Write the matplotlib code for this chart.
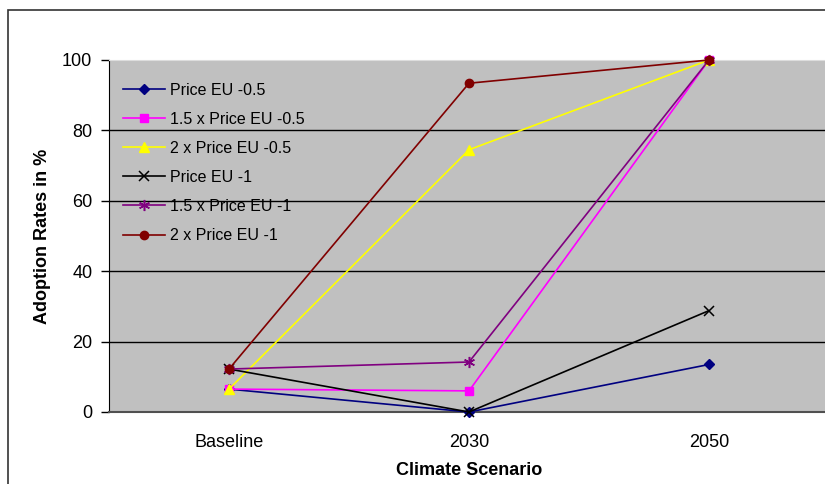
import matplotlib as mpl
import matplotlib.pyplot as plt
from matplotlib.patches import Rectangle

mpl.rcParams.update({"font.family": ["Liberation Sans", "DejaVu Sans"]})

scenarios = ["Baseline", "2030", "2050"]
series_names = [
    "Price EU -0.5",
    "1.5 x Price EU -0.5",
    "2 x Price EU -0.5",
    "Price EU -1",
    "1.5 x Price EU -1",
    "2 x Price EU -1",
]
price_05 = [6.5, 0.0, 13.5]
price_05_x15 = [6.5, 6.0, 100.0]
price_05_x2 = [6.5, 74.5, 100.0]
price_1 = [12.2, 0.0, 28.8]
price_1_x15 = [12.2, 14.2, 100.0]
price_1_x2 = [12.2, 93.4, 100.0]
yticks = [0, 20, 40, 60, 80, 100]

styles = [
    dict(color="#000080", marker="D", ms=5),
    dict(color="#FF00FF", marker="s", ms=6),
    dict(color="#FFFF00", marker="^", ms=7),
    dict(color="#000000", marker="x", ms=7, mew=1.1),
    dict(color="#800080", marker=(6, 2, 0), ms=8, mew=1.1),
    dict(color="#800000", marker="o", ms=6),
]

fig = plt.figure(figsize=(8.25, 4.84), dpi=100)
fig.patches.append(
    Rectangle((8 / 825, -0.1), 1.2, 1 - 10 / 484 + 0.1, transform=fig.transFigure,
              fill=False, edgecolor="#333333", lw=1.2)
)
ax = fig.add_axes([109 / 825, 1 - 412 / 484, 720 / 825, 352 / 484])
ax.set_facecolor("#C0C0C0")

x = list(range(len(scenarios)))
all_series = [price_05, price_05_x15, price_05_x2, price_1, price_1_x15, price_1_x2]
for name, vals, st in zip(series_names, all_series, styles):
    ax.plot(x, vals, lw=1.2, label=name, clip_on=False, zorder=3, **st)

ax.set_xlim(-0.5, 2.5)
ax.set_ylim(0, 100)
ax.set_xticks(x)
ax.set_xticklabels(scenarios, fontsize=13)
ax.set_yticks(yticks)
ax.set_yticklabels([str(t) for t in yticks], fontsize=13)
ax.tick_params(axis="x", length=0, pad=15.5)
ax.tick_params(axis="y", length=6, width=1, direction="out", pad=6)
for t in yticks[1:-1]:
    ax.axhline(t, color="black", lw=1, zorder=1)

ax.spines["right"].set_visible(False)
ax.spines["top"].set_color("#DDDDDD")
ax.spines["bottom"].set_color("#505050")
ax.spines["bottom"].set_linewidth(1.5)
ax.spines["left"].set_color("black")

ax.set_xlabel("Climate Scenario", fontsize=13, fontweight="bold", labelpad=8)
ax.set_ylabel("Adoption Rates in %", fontsize=13, fontweight="bold", labelpad=8)

ax.legend(loc="upper left", bbox_to_anchor=(0.0, 0.976), frameon=False, fontsize=11.5,
          handlelength=2.6, labelspacing=0.88, handletextpad=0.3, borderaxespad=0.5)

fig.savefig("out.png", dpi=100)
